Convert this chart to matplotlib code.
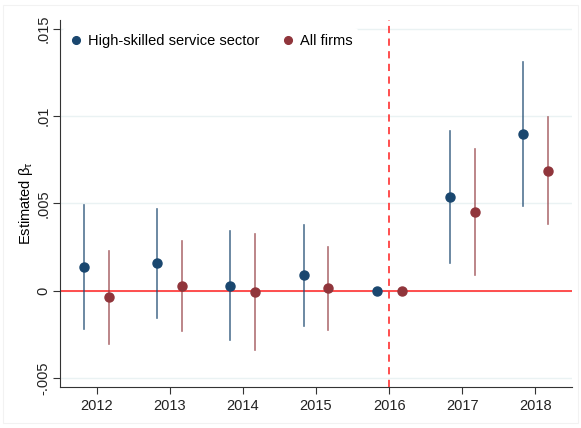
import numpy as np
import matplotlib.pyplot as plt
from matplotlib.patches import Rectangle

plt.rcParams['font.family'] = ['Liberation Sans', 'DejaVu Sans']
plt.rcParams['mathtext.default'] = 'regular'

years = [2012, 2013, 2014, 2015, 2016, 2017, 2018]

# high-skilled service sector
hs_est = [0.00136, 0.00161, 0.00029, 0.00090, 0.0, 0.00539, 0.00895]
hs_lo = [-0.00216, -0.00153, -0.00282, -0.00199, 0.0, 0.00157, 0.00483]
hs_hi = [0.00489, 0.00471, 0.00341, 0.00376, 0.0, 0.00916, 0.01307]

# all firms
af_est = [-0.00036, 0.00029, -0.00007, 0.00014, 0.0, 0.00452, 0.00688]
af_lo = [-0.00302, -0.00230, -0.00341, -0.00226, 0.0, 0.00092, 0.00383]
af_hi = [0.00228, 0.00286, 0.00328, 0.00250, 0.0, 0.00810, 0.00993]

yticks = [-0.005, 0, 0.005, 0.01, 0.015]
ytick_labels = ['-.005', '0', '.005', '.01', '.015']

navy = '#1a476f'
maroon = '#90353b'
redline = '#ff4040'

fig = plt.figure(figsize=(5.81, 4.28), dpi=100)
fig.patches.append(Rectangle((0.005, 0.012), 0.99, 0.976, transform=fig.transFigure,
                             fill=False, edgecolor='#f2f2f2', lw=0.8))
ax = fig.add_axes([0.1033, 0.0958, 0.8812, 0.8575])

x = np.array(years, dtype=float)
off = 0.17

for i in range(len(years)):
    ax.plot([x[i] - off] * 2, [hs_lo[i], hs_hi[i]], color=navy, alpha=0.75, lw=1.2, zorder=3)
    ax.plot([x[i] + off] * 2, [af_lo[i], af_hi[i]], color=maroon, alpha=0.7, lw=1.2, zorder=3)

ax.axhline(0, color=redline, lw=1.3, zorder=2)
ax.axvline(2016, color=redline, lw=1.3, ls=(0, (4, 3)), zorder=2)

ax.plot(x - off, hs_est, 'o', color=navy, ms=6.5, zorder=4, label='High-skilled service sector')
ax.plot(x + off, af_est, 'o', color=maroon, ms=6.5, zorder=4, label='All firms')

ax.set_xlim(2011.5, 2018.5)
ax.set_ylim(-0.0055, 0.0155)
ax.set_xticks(years)
ax.set_yticks(yticks)
ax.set_yticklabels(ytick_labels, rotation=90, va='center')
ax.tick_params(labelsize=10.5, length=5, color='#333333', labelcolor='#222222')
ax.tick_params(axis='y', pad=2)
ax.grid(axis='y', color='#eaf2f3', lw=1.0, zorder=0)
for s in ['top', 'right']:
    ax.spines[s].set_visible(False)
for s in ['left', 'bottom']:
    ax.spines[s].set_color('#333333')
ax.set_ylabel(r'Estimated $\beta_\tau$', fontsize=10.5, labelpad=1)

leg = ax.legend(loc='upper left', bbox_to_anchor=(0.0, 0.985), ncol=2, frameon=True,
                fontsize=10.5, handletextpad=0.3, columnspacing=1.5, borderaxespad=0.2,
                handlelength=1.0, markerscale=0.85)
leg.get_frame().set_edgecolor('none')
leg.get_frame().set_facecolor('white')
leg.get_frame().set_alpha(1)

fig.savefig('out.png', dpi=100)
